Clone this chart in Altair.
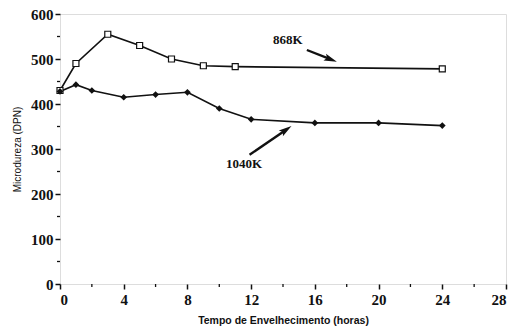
import altair as alt
import pandas as pd

# Aging curves: microhardness vs. aging time
hours_868 = [0, 1, 3, 5, 7, 9, 11, 24]
hv_868 = [430, 490, 555, 530, 500, 485, 483, 478]

hours_1040 = [0, 1, 2, 4, 6, 8, 10, 12, 16, 20, 24]
hv_1040 = [428, 443, 430, 415, 421, 426, 390, 366, 358, 358, 352]

x_ticks = [0, 4, 8, 12, 16, 20, 24, 28]
y_ticks = [0, 100, 200, 300, 400, 500, 600]
x_minor = [2, 6, 10, 14, 18, 22, 26]
y_minor = [50, 150, 250, 350, 450, 550]

# Annotation labels and arrows (start -> head)
labels = ["868K", "1040K"]
label_x = [14.3, 11.55]
label_y = [542, 267]
arrow_x0 = [15.5, 11.9]
arrow_y0 = [520, 287]
arrow_x1 = [17.0, 14.2]
arrow_y1 = [499, 343]
arrow_angle = [111, 55]

W, H = 446, 270
ink = "#111111"
arrow_head = "M0,-1 L0.55,1 L0,0.6 L-0.55,1 Z"

d868 = pd.DataFrame({"t": hours_868, "hv": hv_868})
d1040 = pd.DataFrame({"t": hours_1040, "hv": hv_1040})

xs = alt.Scale(domain=[0, 28], nice=False, zero=False)
ys = alt.Scale(domain=[0, 600], nice=False)

x_axis = alt.Axis(values=x_ticks, title="Tempo de Envelhecimento (horas)", grid=False,
                  labelFont="Liberation Serif", labelFontWeight="bold", labelFontSize=15,
                  labelColor=ink, titleFont="Liberation Sans", titleFontWeight="bold",
                  titleFontSize=10.5, titleColor=ink, titlePadding=8, tickColor=ink,
                  tickSize=5, tickWidth=1.5, domain=False, labelPadding=3)
y_axis = alt.Axis(values=y_ticks, title="Microdureza (DPN)", grid=False,
                  labelFont="Liberation Serif", labelFontWeight="bold", labelFontSize=15,
                  labelColor=ink, titleFont="Liberation Sans", titleFontWeight="normal",
                  titleFontSize=10, titleColor=ink, titlePadding=8, tickColor=ink,
                  tickSize=5, tickWidth=1.5, domain=False, labelPadding=2)

line868 = alt.Chart(d868).mark_line(color=ink, strokeWidth=1.6).encode(
    x=alt.X("t:Q", scale=xs, axis=x_axis),
    y=alt.Y("hv:Q", scale=ys, axis=y_axis),
)
pts868 = alt.Chart(d868).mark_point(shape="square", filled=True, fill="white",
                                   stroke=ink, strokeWidth=1.2, size=36, opacity=1).encode(
    x=alt.X("t:Q", scale=xs), y=alt.Y("hv:Q", scale=ys))

line1040 = alt.Chart(d1040).mark_line(color=ink, strokeWidth=1.6).encode(
    x=alt.X("t:Q", scale=xs), y=alt.Y("hv:Q", scale=ys))
pts1040 = alt.Chart(d1040).mark_point(shape="diamond", filled=True, color=ink,
                                     size=45, opacity=1).encode(
    x=alt.X("t:Q", scale=xs), y=alt.Y("hv:Q", scale=ys))

ann = pd.DataFrame({"label": labels, "lx": label_x, "ly": label_y,
                    "x0": arrow_x0, "y0": arrow_y0, "x1": arrow_x1, "y1": arrow_y1,
                    "ang": arrow_angle})

texts = alt.Chart(ann).mark_text(font="Liberation Serif", fontWeight="bold",
                                 fontSize=13, color=ink).encode(
    x=alt.X("lx:Q", scale=xs), y=alt.Y("ly:Q", scale=ys), text="label:N")
shafts = alt.Chart(ann).mark_rule(color=ink, strokeWidth=2.4).encode(
    x=alt.X("x0:Q", scale=xs), y=alt.Y("y0:Q", scale=ys),
    x2="x1:Q", y2="y1:Q")
heads = alt.Chart(ann).mark_point(shape=arrow_head, filled=True, color=ink,
                                  size=170, opacity=1).encode(
    x=alt.X("x1:Q", scale=xs), y=alt.Y("y1:Q", scale=ys),
    angle=alt.Angle("ang:Q", scale=None))

# Minor ticks along both axes
mx = pd.DataFrame({"t": x_minor})
my = pd.DataFrame({"v": y_minor})
minor_x = alt.Chart(mx).mark_rule(color=ink, strokeWidth=1.3).encode(
    x=alt.X("t:Q", scale=xs), y=alt.value(H), y2=alt.value(H + 3))
minor_y = alt.Chart(my).mark_rule(color=ink, strokeWidth=1.3).encode(
    y=alt.Y("v:Q", scale=ys), x=alt.value(0), x2=alt.value(-3))

chart = alt.layer(minor_x, minor_y, line868, line1040, pts868, pts1040,
                  shafts, heads, texts).properties(
    width=W, height=H,
    autosize=alt.AutoSizeParams(type="none"),
    padding={"left": 60, "top": 14, "right": 7, "bottom": 46},
).configure_view(stroke=ink, strokeWidth=1.8).configure(background="white")

chart.save("out.html", embed_options={"renderer": "svg", "actions": False})
